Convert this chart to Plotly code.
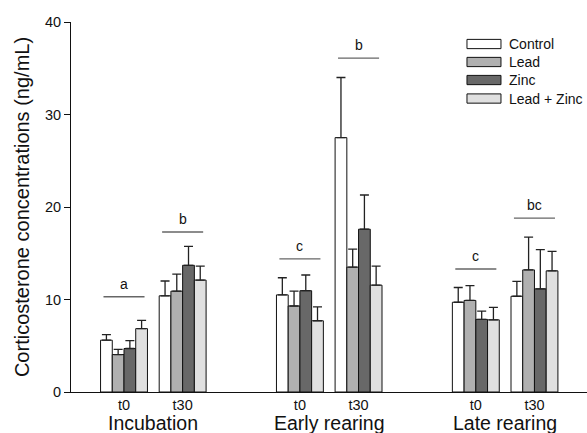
import plotly.graph_objects as go

# ---- data ----
stages = ["Incubation", "Early rearing", "Late rearing"]
times = ["t0", "t30"]
series = ["Control", "Lead", "Zinc", "Lead + Zinc"]
colors = ["#ffffff", "#b0b0b0", "#686868", "#e0e0e0"]

# values ordered: Inc t0, Inc t30, Early t0, Early t30, Late t0, Late t30
means = {
    "Control":     [5.6, 10.4, 10.5, 27.5, 9.7, 10.35],
    "Lead":        [4.05, 10.9, 9.3, 13.5, 9.9, 13.2],
    "Zinc":        [4.7, 13.7, 10.95, 17.6, 7.85, 11.15],
    "Lead + Zinc": [6.85, 12.1, 7.7, 11.55, 7.8, 13.1],
}
sems = {
    "Control":     [0.6, 1.6, 1.85, 6.5, 1.6, 1.6],
    "Lead":        [0.55, 1.85, 1.6, 1.95, 1.6, 3.55],
    "Zinc":        [0.85, 2.05, 1.7, 3.7, 0.9, 4.25],
    "Lead + Zinc": [0.9, 1.5, 1.5, 2.05, 1.35, 2.1],
}
sig_letters = ["a", "b", "c", "b", "c", "bc"]
sig_levels = [10.3, 17.3, 14.4, 36.1, 13.3, 18.8]

# positions: each stage has t0, t30 slots, stages separated by a gap slot
xpos = []
xlabels = []
for i, st in enumerate(stages):
    for j, t in enumerate(times):
        xpos.append(i * 3 + j)
        xlabels.append(t)

FONT = "Arial, Liberation Sans, sans-serif"

fig = go.Figure()
for name, col in zip(series, colors):
    fig.add_trace(go.Bar(
        x=xpos, y=means[name], name=name,
        marker=dict(color=col, line=dict(color="#111111", width=1)),
        error_y=dict(type="data", symmetric=False, array=sems[name],
                     arrayminus=[0] * len(xpos), color="#222222",
                     thickness=1.3, width=4.5),
        showlegend=False,
    ))

shapes = []
annotations = []
# significance lines and letters
for x, lvl, let in zip(xpos, sig_levels, sig_letters):
    shapes.append(dict(type="line", xref="x", yref="y", x0=x - 0.35, x1=x + 0.35,
                       y0=lvl, y1=lvl, line=dict(color="#666666", width=1.3)))
    annotations.append(dict(x=x, y=lvl, xref="x", yref="y", text=let, showarrow=False,
                            yshift=13, font=dict(family=FONT, size=14, color="#111111")))

# stage labels
for i, st in enumerate(stages):
    annotations.append(dict(x=i * 3 + 0.5, y=-0.083, xref="x", yref="paper", text=st,
                            showarrow=False, yanchor="middle",
                            font=dict(family=FONT, size=19.5, color="#111111")))

# manual legend (paper coords)
leg_y = [0.9405, 0.8919, 0.8432, 0.7932]
for name, col, ly in zip(series, colors, leg_y):
    shapes.append(dict(type="rect", xref="paper", yref="paper", x0=0.7674, x1=0.8333,
                       y0=ly - 0.0125, y1=ly + 0.0125,
                       fillcolor=col, line=dict(color="#111111", width=1)))
    annotations.append(dict(x=0.8450, y=ly, xref="paper", yref="paper", text=name,
                            showarrow=False, xanchor="left", yanchor="middle",
                            font=dict(family=FONT, size=14, color="#111111")))

fig.update_layout(
    width=587, height=433,
    margin=dict(l=71, r=0, t=22, b=41),
    paper_bgcolor="white", plot_bgcolor="white",
    barmode="group", bargap=0.2, bargroupgap=0,
    shapes=shapes, annotations=annotations,
    font=dict(family=FONT, color="#111111"),
)
fig.update_xaxes(
    range=[-0.904, 7.896], tickvals=xpos, ticktext=xlabels,
    showline=True, linecolor="#111111", linewidth=1, ticks="",
    showgrid=False, zeroline=False, tickfont=dict(family=FONT, size=14.5),
    ticklabelstandoff=0,
)
fig.update_yaxes(
    range=[0, 40], tickvals=[0, 10, 20, 30, 40],
    showline=True, linecolor="#111111", linewidth=1, ticks="outside",
    ticklen=6, tickcolor="#111111", showgrid=False, zeroline=False,
    tickfont=dict(family=FONT, size=14.5),
    title=dict(text="Corticosterone concentrations (ng/mL)",
               font=dict(family=FONT, size=20), standoff=9),
)

fig.write_html(
    "out.html",
    config={"displayModeBar": False},
    post_script="document.body.style.margin='0';document.body.style.overflow='hidden';",
)
